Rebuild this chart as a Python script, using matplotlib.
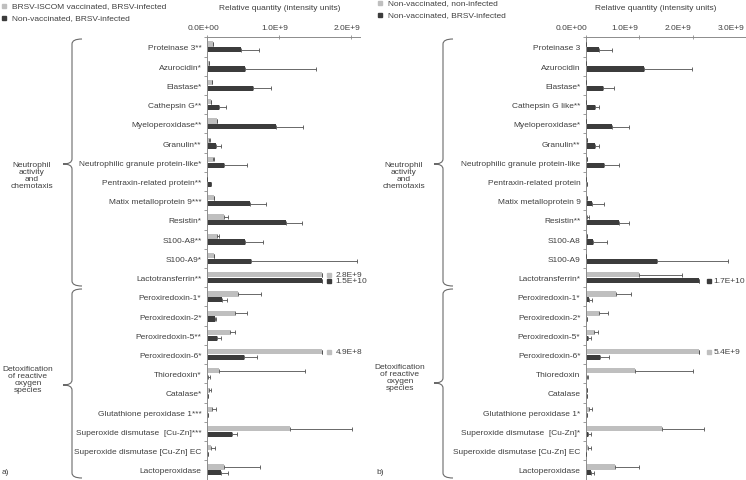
import numpy as np
import matplotlib
matplotlib.use("Agg")
import matplotlib.pyplot as plt
from matplotlib.path import Path
from matplotlib.patches import PathPatch
from matplotlib.transforms import ScaledTranslation

plt.rcParams['font.family'] = ['Liberation Sans', 'DejaVu Sans']

# ---- data (relative quantity, units of 1E+9) ----
labels_a = ["Proteinase 3**", "Azurocidin*", "Elastase*", "Cathepsin G**",
            "Myeloperoxidase**", "Granulin**", "Neutrophilic granule protein-like*",
            "Pentraxin-related protein**", "Matix metalloprotein 9***", "Resistin*",
            "S100-A8**", "S100-A9*", "Lactotransferrin**", "Peroxiredoxin-1*",
            "Peroxiredoxin-2*", "Peroxiredoxin-5**", "Peroxiredoxin-6*", "Thioredoxin*",
            "Catalase*", "Glutathione peroxidase 1***", "Superoxide dismutase  [Cu-Zn]***",
            "Superoxide dismutase [Cu-Zn] EC", "Lactoperoxidase"]
vacc_a = [0.085, 0.03, 0.066, 0.05, 0.14, 0.03, 0.085, 0.005, 0.10, 0.235, 0.14, 0.10,
          2.8, 0.43, 0.39, 0.32, 4.9, 0.17, 0.03, 0.07, 1.15, 0.056, 0.23]
vacc_a_err = [0.0, 0.0, 0.0, 0.0, 0.0, 0.01, 0.01, 0.0, 0.0, 0.055, 0.02, 0.0,
              0.0, 0.32, 0.17, 0.07, 0.0, 1.19, 0.02, 0.06, 0.86, 0.06, 0.50]
nonvacc_a = [0.47, 0.53, 0.64, 0.17, 0.96, 0.12, 0.23, 0.056, 0.59, 1.10, 0.52, 0.61,
             15.0, 0.21, 0.11, 0.14, 0.51, 0.015, 0.015, 0.02, 0.35, 0.01, 0.20]
nonvacc_a_err = [0.25, 0.98, 0.24, 0.09, 0.37, 0.07, 0.32, 0.0, 0.23, 0.22, 0.25, 1.47,
                 0.0, 0.07, 0.02, 0.05, 0.18, 0.02, 0.0, 0.0, 0.06, 0.0, 0.09]
# text printed next to the truncated bars
break_a_light = {12: "2.8E+9", 16: "4.9E+8"}
break_a_dark = {12: "1.5E+10"}

labels_b = ["Proteinase 3", "Azurocidin", "Elastase*", "Cathepsin G like**",
            "Myeloperoxidase*", "Granulin**", "Neutrophilic granule protein-like",
            "Pentraxin-related protein", "Matix metalloprotein 9", "Resistin**",
            "S100-A8", "S100-A9", "Lactotransferrin*", "Peroxiredoxin-1*",
            "Peroxiredoxin-2*", "Peroxiredoxin-5*", "Peroxiredoxin-6*", "Thioredoxin",
            "Catalase", "Glutathione peroxidase 1*", "Superoxide dismutase  [Cu-Zn]*",
            "Superoxide dismutase [Cu-Zn] EC", "Lactoperoxidase"]
ctrl_b = [0.0, 0.0, 0.0, 0.0, 0.0, 0.01, 0.02, 0.0, 0.01, 0.025, 0.01, 0.0,
          0.99, 0.56, 0.245, 0.15, 5.4, 0.91, 0.01, 0.06, 1.42, 0.04, 0.55]
ctrl_b_err = [0.0, 0.0, 0.0, 0.0, 0.0, 0.0, 0.005, 0.0, 0.0, 0.04, 0.0, 0.0,
              0.81, 0.29, 0.17, 0.07, 0.0, 1.09, 0.01, 0.06, 0.80, 0.06, 0.45]
inf_b = [0.245, 1.09, 0.31, 0.17, 0.48, 0.17, 0.34, 0.02, 0.12, 0.61, 0.135, 1.34,
         17.0, 0.06, 0.02, 0.04, 0.26, 0.01, 0.01, 0.01, 0.04, 0.0, 0.085]
inf_b_err = [0.24, 0.90, 0.21, 0.07, 0.32, 0.07, 0.28, 0.0, 0.21, 0.19, 0.25, 1.33,
             0.0, 0.05, 0.0, 0.06, 0.17, 0.02, 0.0, 0.0, 0.05, 0.0, 0.07]
break_b_light = {16: "5.4E+9"}
break_b_dark = {12: "1.7E+10"}

LIGHT = "#bfbfbf"
DARK = "#3c3c3c"
TXT = "#404040"
AXC = "#8c8c8c"
FS = 6

fig = plt.figure(figsize=(7.46, 4.81), dpi=100)


def draw_panel(rect, labels, light, light_err, dark, dark_err, xmax, cap,
               ticks, ticklabels, lab_shift, brk_light, brk_dark, mark_x, text_x):
    ax = fig.add_axes(rect)
    n = len(labels)
    y = np.arange(n)
    off, h = 0.15, 0.27
    lv = np.minimum(np.array(light), cap)
    dv = np.minimum(np.array(dark), cap)
    ax.barh(y - off, lv, height=h, color=LIGHT, zorder=2)
    ax.barh(y + off, dv, height=h, color=DARK, zorder=2)
    ek = dict(fmt='none', ecolor="#505050", elinewidth=0.6, capsize=1.5, capthick=0.6, zorder=3)
    ax.errorbar(lv, y - off, xerr=[np.zeros(n), light_err], **ek)
    ax.errorbar(dv, y + off, xerr=[np.zeros(n), dark_err], **ek)

    # markers + values for bars cut at the axis break
    for i, t in brk_light.items():
        ax.plot(mark_x, i - off, 's', ms=3.5, color=LIGHT, clip_on=False)
        ax.text(text_x, i - off, t, fontsize=FS, color=TXT, va='center', clip_on=False)
    for i, t in brk_dark.items():
        ax.plot(mark_x, i + off, 's', ms=3.5, color=DARK, clip_on=False)
        ax.text(text_x, i + off, t, fontsize=FS, color=TXT, va='center', clip_on=False)

    ax.set_xlim(0, xmax)
    ax.set_ylim(n - 0.5, -0.5)
    ax.set_yticks(y)
    ax.set_yticklabels(labels, fontsize=FS, color=TXT)
    ax.set_yticks(np.arange(n + 1) - 0.5, minor=True)
    ax.tick_params(axis='y', which='major', length=0, pad=4)
    ax.tick_params(axis='y', which='minor', length=2, color=AXC, width=0.6)
    ax.xaxis.tick_top()
    ax.set_xticks(ticks)
    ax.set_xticklabels(ticklabels, fontsize=FS, color=TXT)
    ax.tick_params(axis='x', direction='inout', length=3, color=AXC, width=0.6, pad=3)
    for lab in ax.get_xticklabels():
        lab.set_transform(lab.get_transform() + ScaledTranslation(lab_shift / 100, 0, fig.dpi_scale_trans))
    for s in ['right', 'bottom']:
        ax.spines[s].set_visible(False)
    for s in ['top', 'left']:
        ax.spines[s].set_color(AXC)
        ax.spines[s].set_linewidth(0.7)
    ax.patch.set_visible(False)
    return ax


H = 481.0
W = 746.0
ax_a = draw_panel([207 / W, 0.5 / H, 153 / W, 442.2 / H], labels_a, vacc_a, vacc_a_err,
                  nonvacc_a, nonvacc_a_err, 2.12, 1.59, [0, 1, 2],
                  ["0.0E+00", "1.0E+9", "2.0E+9"], -4, break_a_light, break_a_dark, 1.69, 1.78)
ax_b = draw_panel([586 / W, 0.5 / H, 160 / W, 442.2 / H], labels_b, ctrl_b, ctrl_b_err,
                  inf_b, inf_b_err, 3.0, 2.12, [0, 1, 2, 3],
                  ["0.0E+00", "1.0E+9", "2.0E+9", "3.0E+9"], -15, break_b_light, break_b_dark,
                  2.30, 2.39)

# overlay in pixel coordinates for braces and annotations
ov = fig.add_axes([0, 0, 1, 1], zorder=-1)
ov.set_xlim(0, W)
ov.set_ylim(H, 0)
ov.axis('off')


def brace(x, y0, y1, ytip, hook=10, tip=9, r=5):
    verts = [(x + hook, y0), (x, y0), (x, y0 + r), (x, ytip - r), (x, ytip), (x - tip, ytip),
             (x, ytip), (x, ytip + r), (x, y1 - r), (x, y1), (x + hook, y1)]
    codes = [Path.MOVETO, Path.CURVE3, Path.CURVE3, Path.LINETO, Path.CURVE3, Path.CURVE3,
             Path.CURVE3, Path.CURVE3, Path.LINETO, Path.CURVE3, Path.CURVE3]
    ov.add_patch(PathPatch(Path(verts, codes), fill=False, edgecolor="#6a6a6a", lw=0.8))


brace(72, 40, 287, 165)
brace(72, 290, 479, 386)
brace(443, 40, 287, 165)
brace(443, 290, 479, 384)

group1 = "Neutrophil\nactivity\nand\nchemotaxis"
group2 = "Detoxification\nof reactive\noxygen\nspecies"
for gx, gy, t in [(32, 176, group1), (28, 380, group2), (404, 176, group1), (400, 378, group2)]:
    ov.text(gx, gy, t, fontsize=FS, color=TXT, ha='center', va='center', linespacing=1.0)

for px, t in [(207 + 73, "Relative quantity (intensity units)"),
              (586 + 70, "Relative quantity (intensity units)")]:
    ov.text(px, 8, t, fontsize=FS, color=TXT, ha='center', va='center')

ov.text(2, 473, "a)", fontsize=FS, color=TXT, va='center')
ov.text(376, 473, "b)", fontsize=FS, color=TXT, va='center')

# legends
for lx, ly, names in [(2, 7, ["BRSV-ISCOM vaccinated, BRSV-infected", "Non-vaccinated, BRSV-infected"]),
                      (378, 4, ["Non-vaccinated, non-infected", "Non-vaccinated, BRSV-infected"])]:
    for k, (nm, col) in enumerate(zip(names, [LIGHT, DARK])):
        ov.plot(lx + 2, ly + 12 * k, 's', ms=3, color=col)
        ov.text(lx + 10, ly + 12 * k, nm, fontsize=FS, color=TXT, va='center')

fig.savefig("out.png", dpi=100)
